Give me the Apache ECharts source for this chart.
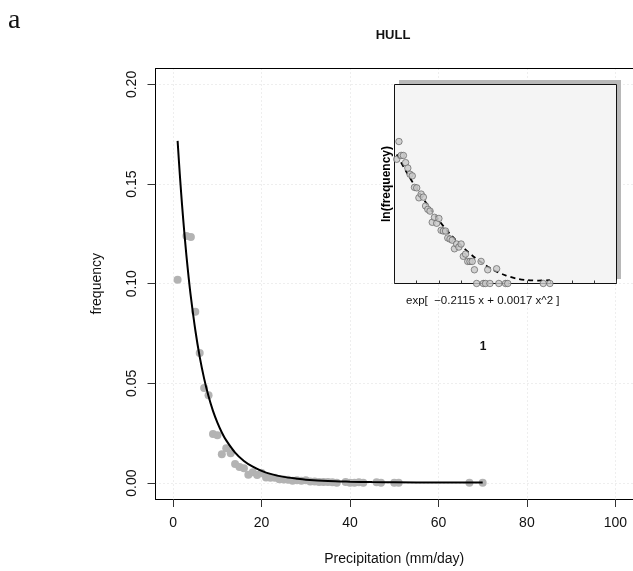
<!DOCTYPE html>
<html>
<head>
<meta charset="utf-8">
<script src="https://cdn.jsdelivr.net/npm/echarts@6/dist/echarts.min.js"></script>
<style>
  html, body { margin: 0; padding: 0; background: #fff; }
  #chart { width: 633px; height: 571px; }
</style>
</head>
<body>
<div id="chart"></div>
<script>
// Daily precipitation amount (mm/day) and its relative frequency at HULL
const precip = [1, 2, 3, 4, 5, 6, 7, 8, 9, 10, 11, 12, 13, 14, 15, 16, 17, 18, 19, 20,
  21, 22, 23, 24, 25, 26, 27, 28, 29, 30, 31, 32, 33, 34, 35, 36, 37, 39, 40, 41,
  42, 43, 46, 47, 50, 51, 67, 70];
const frequency = [0.102, 0.25, 0.124, 0.1235, 0.086, 0.0653, 0.0477, 0.044, 0.0246, 0.024,
  0.0145, 0.0175, 0.015, 0.0096, 0.0081, 0.0074, 0.0042, 0.0054, 0.0040, 0.0051,
  0.0028, 0.0027, 0.0027, 0.0019, 0.0018, 0.0017, 0.0011, 0.0014, 0.0012, 0.0014,
  0.00075, 0.00084, 0.00058, 0.00058, 0.00058, 0.00038, 0.00019, 0.00058, 0.00019, 0.00019,
  0.00038, 0.00019, 0.00040, 0.00019, 0.00019, 0.00019, 0.00019, 0.00019];

// Fitted frequency curve
const fitX = [1, 1.5, 2, 2.5, 3, 3.5, 4, 5, 6, 7, 8, 9, 10, 11, 12, 14, 16, 18, 20, 22,
  25, 28, 30, 35, 40, 45, 50, 60, 70];
const fitF = [0.1717, 0.1548, 0.1397, 0.1262, 0.1140, 0.1031, 0.0934, 0.0768, 0.0633, 0.0524,
  0.0435, 0.0362, 0.0303, 0.0254, 0.0214, 0.0153, 0.0111, 0.0082, 0.0061, 0.0046,
  0.0031, 0.0022, 0.0017, 0.0010, 0.0007, 0.0005, 0.0004, 0.0003, 0.0003];

// Fitted curve on the log scale (inset)
const lnFitX = [1, 5, 10, 15, 20, 25, 30, 35, 40, 45, 50, 55, 60, 65, 70];
const lnFitY = [-2.04, -2.85, -3.78, -4.62, -5.38, -6.06, -6.65, -7.15, -7.57, -7.91,
  -8.16, -8.32, -8.40, -8.42, -8.40];

const xTicks = [0, 20, 40, 60, 80, 100];
const yTicks = [0, 0.05, 0.10, 0.15, 0.20];
const fitLabel = 'exp[  \u22120.2115 x + 0.0017 x^2 ]';

const FONT = "'Liberation Sans', Arial, sans-serif";

const mainPoints = precip.map((x, i) => [x, frequency[i]]);
const fitLine = fitX.map((x, i) => [x, fitF[i]]);
const lnPoints = precip.map((x, i) => [x, Math.log(frequency[i])]);
const lnFitLine = lnFitX.map((x, i) => [x, lnFitY[i]]);

const chart = echarts.init(document.getElementById('chart'), null, { renderer: 'canvas' });

const gridLine = { show: true, lineStyle: { color: '#dcdcdc', type: [1, 3], width: 1 } };

chart.setOption({
  animation: false,
  backgroundColor: '#ffffff',
  grid: [
    { left: 155.5, top: 68.5, width: 480, height: 432, show: false, containLabel: false },
    { left: 394.5, top: 84.5, width: 222, height: 199, show: false, containLabel: false }
  ],
  xAxis: [
    {
      gridIndex: 0, type: 'value', min: -4, max: 104,
      axisLine: { show: true, onZero: false, lineStyle: { color: '#000' } },
      axisTick: { show: true, length: 8, customValues: xTicks, lineStyle: { color: '#333' } },
      axisLabel: { show: true, customValues: xTicks, margin: 17, color: '#111',
        fontFamily: FONT, fontSize: 14 },
      splitLine: gridLine,
      name: 'Precipitation (mm/day)', nameLocation: 'middle', nameGap: 53,
      nameTextStyle: { color: '#111', fontFamily: FONT, fontSize: 14 }
    },
    {
      gridIndex: 1, type: 'value', min: 0, max: 100, interval: 10, z: 10,
      axisLine: { show: false, onZero: false },
      axisTick: { show: true, inside: true, length: 3, lineStyle: { color: '#333' } },
      axisLabel: { show: false },
      splitLine: { show: false }
    }
  ],
  yAxis: [
    {
      gridIndex: 0, type: 'value', min: -0.008, max: 0.208,
      axisLine: { show: true, onZero: false, lineStyle: { color: '#000' } },
      axisTick: { show: true, length: 8, customValues: yTicks, lineStyle: { color: '#333' } },
      axisLabel: { show: true, customValues: yTicks, rotate: 90, margin: 16, color: '#111',
        fontFamily: FONT, fontSize: 14, formatter: v => v.toFixed(2) },
      splitLine: gridLine,
      name: 'frequency', nameLocation: 'middle', nameGap: 51, nameRotate: 90,
      nameTextStyle: { color: '#111', fontFamily: FONT, fontSize: 14 }
    },
    {
      gridIndex: 1, type: 'value', min: -8.57, max: 1.5, z: 10,
      axisLine: { show: false, onZero: false }, axisTick: { show: false }, axisLabel: { show: false },
      splitLine: { show: false },
      name: 'ln(frequency)', nameLocation: 'middle', nameGap: 2, nameRotate: 90,
      nameTextStyle: { color: '#000', fontFamily: FONT, fontSize: 12, fontWeight: 'bold' }
    }
  ],
  graphic: [
    { type: 'text', left: 8, top: 7, z: 20,
      style: { text: 'a', font: "28px 'Liberation Serif', 'Times New Roman', serif", fill: '#111' } },
    { type: 'text', x: 393, y: 35, z: 20,
      style: { text: 'HULL', font: "bold 13px " + FONT, fill: '#111', align: 'center', verticalAlign: 'middle' } },
    // top edge of the main plotting region
    { type: 'line', z: 4, shape: { x1: 155.5, y1: 68.5, x2: 640, y2: 68.5 },
      style: { stroke: '#000', lineWidth: 1 } },
    // inset frame: drop shadow, then panel
    { type: 'rect', z: 5, shape: { x: 399, y: 80, width: 222, height: 199 },
      style: { fill: '#b8b8b8' } },
    { type: 'rect', z: 6, shape: { x: 394.5, y: 84.5, width: 222, height: 199 },
      style: { fill: '#f4f4f4', stroke: '#111', lineWidth: 1 } },
    { type: 'text', x: 406, y: 301, z: 20,
      style: { text: fitLabel, font: "11.5px " + FONT, fill: '#111', align: 'left', verticalAlign: 'middle' } },
    { type: 'text', x: 483, y: 347, z: 20,
      style: { text: '1', font: "bold 12px " + FONT, fill: '#111', align: 'center', verticalAlign: 'middle' } }
  ],
  series: [
    {
      type: 'scatter', xAxisIndex: 0, yAxisIndex: 0, data: mainPoints,
      symbol: 'circle', symbolSize: 8, clip: true, z: 2,
      itemStyle: { color: '#b3b3b3', opacity: 1 }
    },
    {
      type: 'line', xAxisIndex: 0, yAxisIndex: 0, data: fitLine,
      showSymbol: false, smooth: 0.3, clip: true, z: 3,
      lineStyle: { color: '#000', width: 2 }
    },
    {
      type: 'line', xAxisIndex: 1, yAxisIndex: 1, data: lnFitLine,
      showSymbol: false, smooth: 0.3, clip: false, z: 10,
      lineStyle: { color: '#000', width: 1.8, type: [5, 4] }
    },
    {
      type: 'scatter', xAxisIndex: 1, yAxisIndex: 1, data: lnPoints,
      symbol: 'circle', symbolSize: 6.5, clip: false, z: 11,
      itemStyle: { color: '#c8c8c8', borderColor: '#555', borderWidth: 0.8 }
    }
  ]
});
</script>
</body>
</html>
